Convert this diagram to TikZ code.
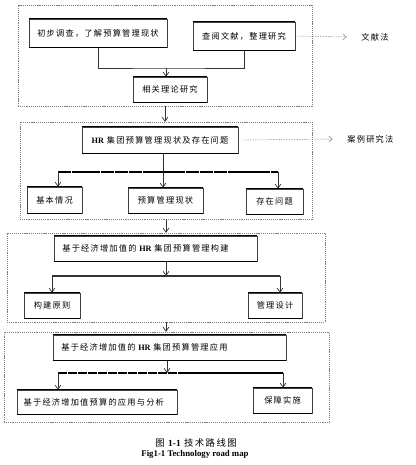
\documentclass[tikz,border=0pt]{standalone}
\usepackage{fontspec}
\setmainfont{Liberation Serif}
\newfontfamily\cjk[LetterSpace=15]{Noto Sans CJK SC}
\usetikzlibrary{arrows.meta}

\newcommand{\hrname}{{\rmfamily\bfseries HR}}

\tikzset{
  stepbox/.style={draw=black!75, line width=0.5pt, inner sep=0pt, font=\cjk\fontsize{7}{8}\selectfont},
  leftbox/.style={stepbox, align=left, inner xsep=0.25cm},
  frame/.style={draw=gray, dash pattern=on 1pt off 0.8pt, line width=0.4pt, inner sep=0pt},
  conn/.style={line width=0.6pt, draw=black!80},
  arr/.style={conn, -{Straight Barb[length=3.5pt,width=5pt]}},
  via/.style={draw=gray, line width=0.4pt, dash pattern=on 1.2pt off 1pt, -{Straight Barb[length=3pt,width=5pt]}},
  method/.style={font=\cjk\fontsize{7}{8}\selectfont, inner sep=1pt},
  bar/.style={line width=1.5pt, draw=black}
}

\begin{document}
\begin{tikzpicture}[x=0.03cm, y=-0.03cm]
  \useasboundingbox (0,0) rectangle (416,465);

  % 四个虚线框
  \node[frame, minimum width=8.82cm, minimum height=3.03cm] (f1) at (165,55.5) {};
  \node[frame, minimum width=8.76cm, minimum height=2.91cm] (f2) at (166,170.5) {};
  \node[frame, minimum width=9.54cm, minimum height=2.67cm] (f3) at (166,277.5) {};
  \node[frame, minimum width=9.75cm, minimum height=2.70cm] (f4) at (166.5,377) {};

  % 第一部分
  \node[stepbox, minimum width=4.14cm, minimum height=0.84cm] (chubu) at (98,33) {初步调查，了解预算管理现状};
  \node[stepbox, minimum width=3.06cm, minimum height=0.84cm] (chayue) at (244,36) {查阅文献，整理研究};
  \node[stepbox, minimum width=2.22cm, minimum height=0.75cm] (lilun) at (170,89.5) {相关理论研究};
  \node[method, anchor=west] (wxf) at (360,37) {文献法};
  \draw[via] ([xshift=0.05cm]chayue.east) -- ([xshift=-0.4cm]wxf.west);
  \coordinate (j1) at (166,68);
  \draw[conn] (chubu.south) |- (j1) -| (chayue.south);
  \draw[arr] (j1) -- (j1 |- lilun.north);

  % 第二部分
  \node[stepbox, minimum width=4.68cm, minimum height=0.78cm] (xianzhuang) at (160,140) {\hrname\ 集团预算管理现状及存在问题};
  \node[stepbox, minimum width=1.65cm, minimum height=0.78cm] (jiben) at (54.5,200) {基本情况};
  \node[stepbox, minimum width=2.25cm, minimum height=0.75cm] (xzhuang) at (165.5,200.5) {预算管理现状};
  \node[stepbox, minimum width=1.71cm, minimum height=0.75cm] (wenti) at (274.5,201.5) {存在问题};
  \node[method, anchor=west] (alf) at (346,139) {案例研究法};
  \draw[via] ([xshift=0.12cm]xianzhuang.east) -- ([xshift=-0.4cm]alf.west);
  \coordinate (b2) at (163,172);
  \coordinate (b2l) at (58,172);
  \coordinate (b2r) at (278,172);
  \draw[conn] (xianzhuang.south -| b2) -- (b2);
  \draw[bar, dash pattern=on 11.5pt off 0.6pt] (b2l) -- (b2r);
  \draw[arr] (b2l) -- (b2l |- jiben.north);
  \draw[arr] (b2) -- (b2 |- xzhuang.north);
  \draw[arr] (b2r) -- (b2r |- wenti.north);

  % 第三部分
  \node[leftbox, text width=5.59cm, minimum height=0.75cm] (goujian) at (155.5,248.5) {基于经济增加值的 \hrname\ 集团预算管理构建};
  \node[stepbox, minimum width=1.68cm, minimum height=0.75cm] (yuanze) at (52,305.5) {构建原则};
  \node[stepbox, minimum width=1.62cm, minimum height=0.75cm] (sheji) at (275,305.5) {管理设计};
  \coordinate (b3) at (166,276);
  \coordinate (b3l) at (52,276);
  \coordinate (b3r) at (280,276);
  \draw[arr] (b3 |- goujian.south) -- (b3);
  \draw[conn, line width=0.9pt] (b3l) -- (b3r);
  \draw[arr] (b3l) -- (b3l |- yuanze.north);
  \draw[arr] (b3r) -- (b3r |- sheji.north);

  % 第四部分
  \node[leftbox, text width=6.49cm, minimum height=0.75cm] (yingyong) at (169.5,347.5) {基于经济增加值的 \hrname\ 集团预算管理应用};
  \node[leftbox, inner xsep=0.2cm, text width=4.4cm, minimum height=0.72cm] (fenxi) at (97,402) {基于经济增加值预算的应用与分析};
  \node[stepbox, minimum width=1.77cm, minimum height=0.75cm] (baozhang) at (282.5,400.5) {保障实施};
  \coordinate (b4) at (167,373);
  \coordinate (b4l) at (58,373);
  \coordinate (b4r) at (283,373);
  \draw[arr] (b4 |- yingyong.south) -- (b4);
  \draw[bar, line width=1.3pt, dash pattern=on 8pt off 0.5pt] (b4l) -- (b4r);
  \draw[arr] (b4l) -- (b4l |- fenxi.north);
  \draw[arr] (b4r) -- (b4r |- baozhang.north);

  % 框之间的箭头
  \draw[arr] (f1.south) -- (f1.south |- f2.north);
  \draw[arr] (f2.south) -- (f2.south |- f3.north);
  \draw[arr] (f3.south) -- (f3.south |- f4.north);

  % 上下粗边
  \foreach \n in {chubu,chayue,lilun,xianzhuang,jiben,xzhuang,wenti,goujian,yuanze,sheji,yingyong,fenxi,baozhang}
    \draw[line width=1.2pt] (\n.north west) -- (\n.north east) (\n.south west) -- (\n.south east);

  % 图题
  \node[font=\cjk\fontsize{8}{9}\selectfont] (tuti) at (196,443) {图 {\rmfamily\bfseries 1-1} 技术路线图};
  \node[font=\rmfamily\bfseries\fontsize{7.5}{9}\selectfont] (figti) at (195,454) {Fig1-1 Technology road map};
\end{tikzpicture}
\end{document}
